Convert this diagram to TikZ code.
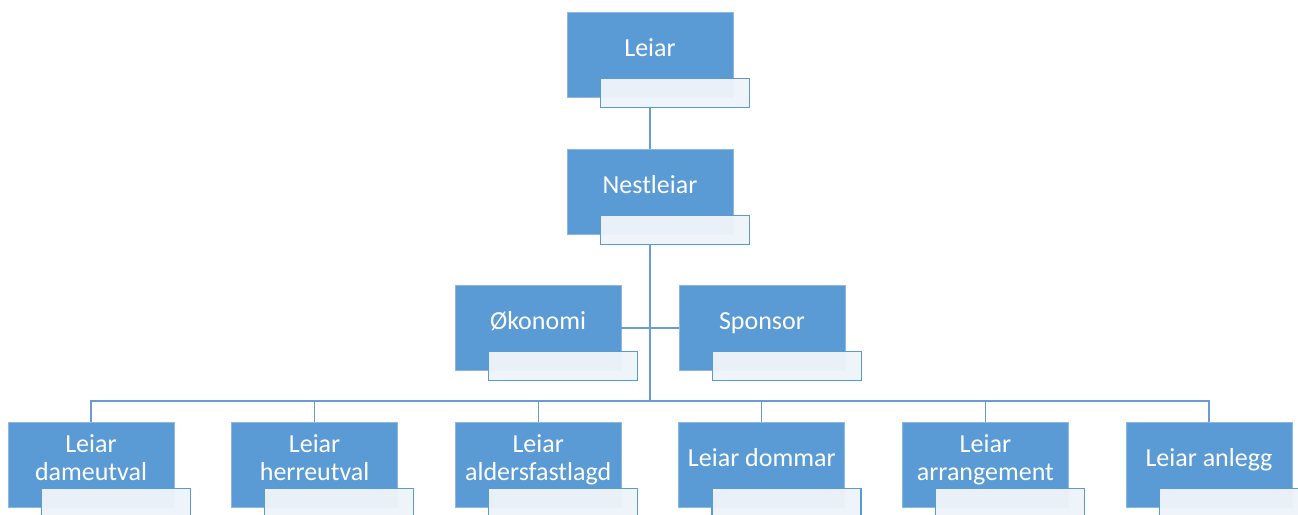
\documentclass[tikz,border=0pt]{standalone}
\usepackage{fontspec}
\setmainfont{Carlito}
\usetikzlibrary{positioning}
\definecolor{orgblue}{HTML}{5B9BD5}
\definecolor{orgline}{HTML}{6A9BD2}
\definecolor{orgpale}{HTML}{EEF3FA}
\definecolor{orgedge}{HTML}{8DB8E3}
\tikzset{
    role/.style={
           rectangle,
           fill=orgblue,
           draw=orgedge, line width=0.5pt,
           minimum width=124.5pt,
           minimum height=63.75pt,
           inner sep=0pt,
           text=white,
           font=\fontsize{19.5}{21}\selectfont,
           text centered,
           },
    rolesub/.style={
           rectangle,
           fill=orgpale, fill opacity=0.97,
           draw=orgblue, line width=0.9pt, draw opacity=1,
           minimum width=111.75pt,
           minimum height=21.75pt,
           inner sep=0pt,
           anchor=north west,
           xshift=24.75pt,
           yshift=-49.5pt,
           },
    link/.style={draw=orgline, line width=1pt},
}
\newcommand{\roletext}[1]{\raisebox{3pt}[\height][\depth]{\begin{tabular}{@{}c@{}}#1\end{tabular}}}

\begin{document}
\begin{tikzpicture}[x=0.75pt,y=-0.75pt]
        % page size (px of the reference)
        \useasboundingbox (0,0) rectangle (1298,514);

        % BOX Leiar
        \node[role] (OR_LEIAR) at (650,55) {\roletext{Leiar}};
        \node[rolesub] (OR_LEIAR_SUB) at (OR_LEIAR.north west) {};

        % BOX Nestleiar
        \node[role] (OR_NEST) at (650,191.5) {\roletext{Nestleiar}};
        \node[rolesub] (OR_NEST_SUB) at (OR_NEST.north west) {};

        % BOX Okonomi / Sponsor
        \node[role] (OR_OKO) at (538,328) {\roletext{Økonomi}};
        \node[rolesub] (OR_OKO_SUB) at (OR_OKO.north west) {};
        \node[role,
            right of=OR_OKO,
            node distance=168pt,
            anchor=center] (OR_SPON) {\roletext{Sponsor}};
        \node[rolesub] (OR_SPON_SUB) at (OR_SPON.north west) {};

        % BOTTOM ROW
        % each box sits right of the one before
        \node[role] (OR_DAME) at (91,464.5) {\roletext{Leiar\\dameutval}};
        \node[rolesub] (OR_DAME_SUB) at (OR_DAME.north west) {};
        \node[role,
            right of=OR_DAME,
            node distance=167.7pt,
            anchor=center] (OR_HERRE) {\roletext{Leiar\\herreutval}};
        \node[rolesub] (OR_HERRE_SUB) at (OR_HERRE.north west) {};
        \node[role,
            right of=OR_HERRE,
            node distance=167.7pt,
            anchor=center] (OR_ALDER) {\roletext{Leiar\\aldersfastlagd}};
        \node[rolesub] (OR_ALDER_SUB) at (OR_ALDER.north west) {};
        \node[role,
            right of=OR_ALDER,
            node distance=167.7pt,
            anchor=center] (OR_DOMMAR) {\roletext{Leiar dommar}};
        \node[rolesub] (OR_DOMMAR_SUB) at (OR_DOMMAR.north west) {};
        \node[role,
            right of=OR_DOMMAR,
            node distance=167.7pt,
            anchor=center] (OR_ARR) {\roletext{Leiar\\arrangement}};
        \node[rolesub] (OR_ARR_SUB) at (OR_ARR.north west) {};
        \node[role,
            right of=OR_ARR,
            node distance=167.7pt,
            anchor=center] (OR_ANLEGG) {\roletext{Leiar anlegg}};
        \node[rolesub] (OR_ANLEGG_SUB) at (OR_ANLEGG.north west) {};

        % draw the connectors
        \coordinate (OR_BUS) at (650,401);
        \draw[link] (OR_LEIAR_SUB.south -| OR_LEIAR.south) -- (OR_NEST.north);
        \draw[link] (OR_NEST_SUB.south -| OR_NEST.south) -- (OR_BUS);
        \draw[link] (OR_OKO.east) -- (OR_SPON.west);
        \foreach \n in {OR_DAME,OR_HERRE,OR_ALDER,OR_DOMMAR,OR_ARR,OR_ANLEGG}
            \draw[link] (OR_BUS) -| (\n.north);

\end{tikzpicture}
\end{document}
